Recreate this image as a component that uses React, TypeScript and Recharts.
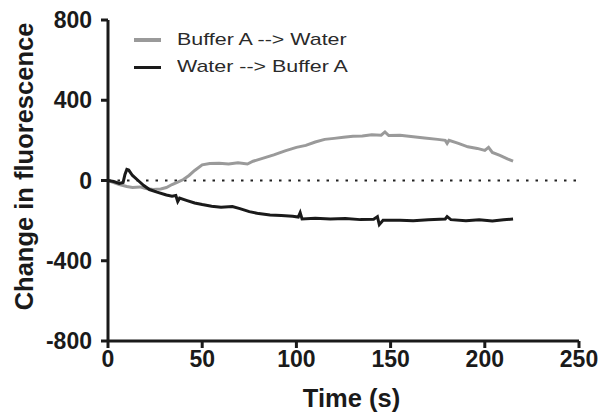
import React from 'react';
import {
  LineChart,
  Line,
  XAxis,
  YAxis,
  ReferenceLine,
} from 'recharts';

// time (s) vs change in fluorescence
const bufferToWater = [
  { t: 0, v: 0 }, { t: 3, v: -10 }, { t: 6, v: -20 }, { t: 10, v: -30 },
  { t: 13, v: -35 }, { t: 17, v: -32 }, { t: 20, v: -40 }, { t: 24, v: -45 },
  { t: 28, v: -42 }, { t: 31, v: -35 }, { t: 34, v: -20 }, { t: 37, v: -8 },
  { t: 40, v: 5 }, { t: 43, v: 25 }, { t: 46, v: 50 }, { t: 50, v: 78 },
  { t: 54, v: 85 }, { t: 59, v: 86 }, { t: 64, v: 82 }, { t: 69, v: 88 },
  { t: 74, v: 82 }, { t: 77, v: 96 }, { t: 82, v: 110 }, { t: 88, v: 128 },
  { t: 94, v: 148 }, { t: 100, v: 165 }, { t: 105, v: 175 }, { t: 110, v: 192 },
  { t: 115, v: 205 }, { t: 120, v: 210 }, { t: 125, v: 215 }, { t: 130, v: 220 },
  { t: 135, v: 222 }, { t: 140, v: 228 }, { t: 145, v: 226 }, { t: 147, v: 242 },
  { t: 149, v: 224 }, { t: 155, v: 225 }, { t: 162, v: 218 }, { t: 168, v: 212 },
  { t: 175, v: 205 }, { t: 179, v: 200 }, { t: 180, v: 185 }, { t: 181, v: 200 },
  { t: 186, v: 185 }, { t: 191, v: 168 }, { t: 196, v: 160 }, { t: 200, v: 150 },
  { t: 202, v: 165 }, { t: 204, v: 140 }, { t: 208, v: 125 }, { t: 212, v: 108 },
  { t: 215, v: 97 },
];

const waterToBuffer = [
  { t: 0, v: 0 }, { t: 3, v: -5 }, { t: 6, v: -15 }, { t: 8, v: -10 },
  { t: 9, v: 30 }, { t: 10, v: 55 }, { t: 11, v: 52 }, { t: 13, v: 25 },
  { t: 16, v: 0 }, { t: 19, v: -25 }, { t: 22, v: -45 }, { t: 26, v: -58 },
  { t: 31, v: -72 }, { t: 34, v: -78 }, { t: 36, v: -75 }, { t: 37, v: -105 },
  { t: 38, v: -88 }, { t: 42, v: -100 }, { t: 46, v: -112 }, { t: 50, v: -120 },
  { t: 55, v: -128 }, { t: 60, v: -133 }, { t: 66, v: -130 }, { t: 70, v: -140 },
  { t: 75, v: -155 }, { t: 80, v: -165 }, { t: 86, v: -172 }, { t: 92, v: -175 },
  { t: 98, v: -178 }, { t: 101, v: -182 }, { t: 102, v: -160 }, { t: 103, v: -192 },
  { t: 110, v: -188 }, { t: 118, v: -192 }, { t: 126, v: -190 }, { t: 134, v: -195 },
  { t: 141, v: -193 }, { t: 143, v: -180 }, { t: 144, v: -220 }, { t: 146, v: -198 },
  { t: 155, v: -198 }, { t: 162, v: -200 }, { t: 170, v: -196 }, { t: 179, v: -192 },
  { t: 180, v: -180 }, { t: 182, v: -195 }, { t: 190, v: -200 }, { t: 197, v: -196 },
  { t: 204, v: -202 }, { t: 210, v: -196 }, { t: 215, v: -192 },
];

const xTicks = [0, 50, 100, 150, 200, 250];
const yTicks = [-800, -400, 0, 400, 800];

const seriesNames = ['Buffer A --> Water', 'Water --> Buffer A'];
const seriesColors = ['#9a9a9a', '#1a1a1a'];

const font = 'Liberation Sans, Arial, Helvetica, sans-serif';
const tickStyle = { fill: '#1a1a1a', fontSize: 23, fontWeight: 'bold', fontFamily: font };

const LegendBox = () => (
  <div
    style={{
      position: 'absolute',
      left: 134,
      top: 26,
      fontFamily: font,
      fontSize: 17,
      color: '#2a2a2a',
    }}
  >
    {seriesNames.map((name, i) => (
      <div key={name} style={{ display: 'flex', alignItems: 'center', height: 27.5 }}>
        <div style={{ width: 27, height: 3.5, background: seriesColors[i], marginRight: 16 }} />
        <span style={{ display: 'inline-block', transform: 'scaleX(1.26)', transformOrigin: 'left center' }}>
          {name}
        </span>
      </div>
    ))}
  </div>
);

export default function App() {
  return (
    <div style={{ position: 'absolute', left: 0, top: 0, width: 610, height: 415, background: '#fff' }}>
      <LineChart
        width={610}
        height={415}
        margin={{ top: 20, right: 31, left: 48, bottom: 24 }}
      >
        <XAxis
          type="number"
          dataKey="t"
          domain={[0, 250]}
          ticks={xTicks}
          allowDuplicatedCategory={false}
          height={50}
          stroke="#1a1a1a"
          strokeWidth={3}
          tickSize={7}
          tickMargin={3}
          tick={tickStyle}
          label={{
            value: 'Time (s)',
            position: 'insideBottom',
            offset: -16,
            dx: 8,
            fill: '#1a1a1a',
            fontSize: 25.5,
            fontWeight: 'bold',
            fontFamily: font,
          }}
        />
        <YAxis
          type="number"
          domain={[-800, 800]}
          ticks={yTicks}
          width={60}
          stroke="#1a1a1a"
          strokeWidth={3}
          tickSize={7}
          tickMargin={9}
          tick={tickStyle}
          label={{
            value: 'Change in fluorescence',
            angle: -90,
            position: 'insideLeft',
            offset: -24,
            dy: -14,
            style: { textAnchor: 'middle' },
            fill: '#1a1a1a',
            fontSize: 25.5,
            fontWeight: 'bold',
            fontFamily: font,
          }}
        />
        <ReferenceLine y={0} stroke="#222" strokeWidth={2} strokeDasharray="2.5 7" />
        <Line
          data={bufferToWater}
          dataKey="v"
          name={seriesNames[0]}
          type="linear"
          stroke={seriesColors[0]}
          strokeWidth={3}
          dot={false}
          isAnimationActive={false}
        />
        <Line
          data={waterToBuffer}
          dataKey="v"
          name={seriesNames[1]}
          type="linear"
          stroke={seriesColors[1]}
          strokeWidth={3}
          dot={false}
          isAnimationActive={false}
        />
      </LineChart>
      <LegendBox />
    </div>
  );
}
